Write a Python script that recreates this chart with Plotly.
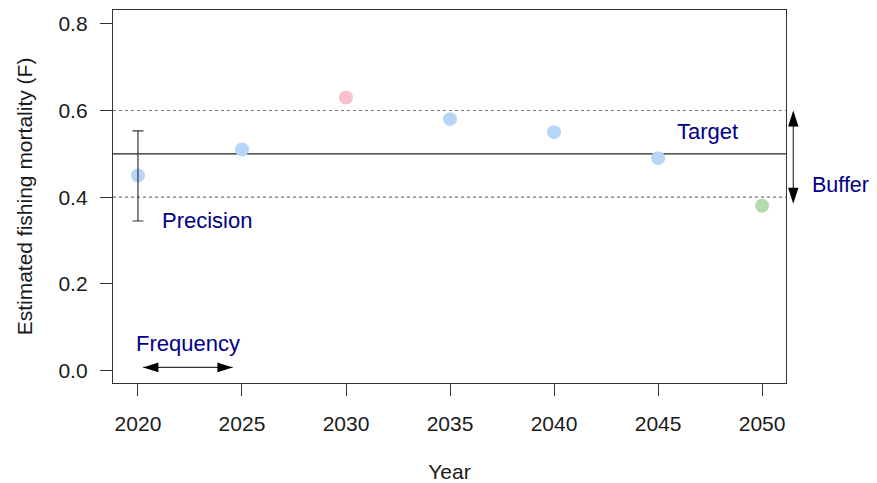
import plotly.graph_objects as go

years = [2020, 2025, 2030, 2035, 2040, 2045, 2050]
f_values = [0.45, 0.51, 0.63, 0.58, 0.55, 0.49, 0.38]
point_colors = ['#b7d5f6', '#b7d5f6', '#f9c1cc', '#b7d5f6', '#b7d5f6', '#b7d5f6', '#b3dcae']

precision_year = 2020
precision_low = 0.345
precision_high = 0.553

target = 0.5
buffer_low = 0.4
buffer_high = 0.6
buffer_arrow = [0.385, 0.6]
buffer_x = 2051.5

freq_x = [2020.25, 2024.55]
freq_y = 0.007

x_ticks = [2020, 2025, 2030, 2035, 2040, 2045, 2050]
y_ticks = [0.0, 0.2, 0.4, 0.6, 0.8]

x_range = [2018.8, 2051.15]
y_range = [-0.029, 0.832]

FONT = 'Liberation Sans, Arial, sans-serif'
LABEL_COLOR = '#00008B'

# page body has an 8px margin, so the figure is sized/offset to compensate
W, H = 869, 475
ML, MR, MT, MB = 104.7, 91, 2, 99.7
plot_w = W - ML - MR
plot_h = H - MT - MB


def to_paper_x(xv):
    return (xv - x_range[0]) / (x_range[1] - x_range[0])


fig = go.Figure()

# horizontal reference lines
fig.add_trace(go.Scatter(x=x_range, y=[buffer_high, buffer_high], mode='lines',
                         line=dict(color='#777777', width=1.2, dash='dot'), hoverinfo='skip'))
fig.add_trace(go.Scatter(x=x_range, y=[buffer_low, buffer_low], mode='lines',
                         line=dict(color='#777777', width=1.2, dash='dot'), hoverinfo='skip'))
fig.add_trace(go.Scatter(x=x_range, y=[target, target], mode='lines',
                         line=dict(color='#222222', width=1.3), hoverinfo='skip'))

# points
fig.add_trace(go.Scatter(x=years, y=f_values, mode='markers',
                         marker=dict(size=14, color=point_colors, line=dict(width=0))))

# precision error bar (drawn on top)
mid = f_values[years.index(precision_year)]
fig.add_trace(go.Scatter(x=[precision_year], y=[mid], mode='markers',
                         marker=dict(size=1, color='rgba(0,0,0,0)'),
                         error_y=dict(type='data', symmetric=False,
                                      array=[precision_high - mid],
                                      arrayminus=[mid - precision_low],
                                      color='#333333', thickness=1.2, width=5.5)))

# frequency arrow
fig.add_trace(go.Scatter(x=freq_x, y=[freq_y, freq_y], mode='lines',
                         line=dict(color='#333333', width=1.2), hoverinfo='skip'))
fig.add_trace(go.Scatter(x=freq_x, y=[freq_y, freq_y], mode='markers',
                         marker=dict(symbol='arrow', size=16, angle=[270, 90], color='black',
                                     line=dict(width=0)),
                         cliponaxis=False, hoverinfo='skip'))

# buffer arrow (outside plot) drawn as paper-x shapes
bx = to_paper_x(buffer_x)
head_len = 16 * (y_range[1] - y_range[0]) / plot_h
head_hw = 5.2 / plot_w
y_lo, y_hi = buffer_arrow
fig.add_shape(type='line', xref='paper', yref='y', x0=bx, x1=bx,
              y0=y_lo + head_len * 0.5, y1=y_hi - head_len * 0.5,
              line=dict(color='#333333', width=1.2))
fig.add_shape(type='path', xref='paper', yref='y',
              path=f'M {bx},{y_hi} L {bx - head_hw},{y_hi - head_len} L {bx + head_hw},{y_hi - head_len} Z',
              fillcolor='black', line=dict(width=0))
fig.add_shape(type='path', xref='paper', yref='y',
              path=f'M {bx},{y_lo} L {bx - head_hw},{y_lo + head_len} L {bx + head_hw},{y_lo + head_len} Z',
              fillcolor='black', line=dict(width=0))

# Buffer text (outside plot, paper-referenced)
fig.add_annotation(x=to_paper_x(2053.75), y=0.428, xref='paper', yref='y', text='Buffer',
                   showarrow=False, xanchor='center', yanchor='middle',
                   font=dict(family=FONT, size=21.5, color=LABEL_COLOR))

annotations = [
    dict(x=2023.3, y=0.345, text='Precision'),
    dict(x=2047.4, y=0.551, text='Target'),
    dict(x=2022.4, y=0.063, text='Frequency'),
]
for a in annotations:
    fig.add_annotation(x=a['x'], y=a['y'], text=a['text'], showarrow=False,
                       xref='x', yref='y', xanchor='center', yanchor='middle',
                       font=dict(family=FONT, size=22, color=LABEL_COLOR))

fig.update_layout(
    width=W, height=H,
    margin=dict(l=ML, r=MR, t=MT, b=MB, autoexpand=False),
    plot_bgcolor='white', paper_bgcolor='white',
    showlegend=False,
    font=dict(family=FONT, size=21, color='#1a1a1a'),
)
fig.update_xaxes(range=x_range, tickvals=x_ticks, ticktext=[str(t) for t in x_ticks],
                 automargin=False,
                 showgrid=False, zeroline=False, showline=True, mirror=True,
                 linecolor='#333333', linewidth=1.3, ticks='outside', ticklen=12,
                 tickcolor='#333333', tickwidth=1.2, ticklabelstandoff=10,
                 tickfont=dict(size=21),
                 title=dict(text='Year', font=dict(size=21), standoff=31))
fig.update_yaxes(range=y_range, tickvals=y_ticks, ticktext=[f'{t:.1f}' for t in y_ticks],
                 automargin=False,
                 showgrid=False, zeroline=False, showline=True, mirror=True,
                 linecolor='#333333', linewidth=1.3, ticks='outside', ticklen=12,
                 tickcolor='#333333', tickwidth=1.2, ticklabelstandoff=8,
                 tickfont=dict(size=21),
                 title=dict(text='Estimated fishing mortality (F)', font=dict(size=21), standoff=20))

fig.write_html('out.html')
